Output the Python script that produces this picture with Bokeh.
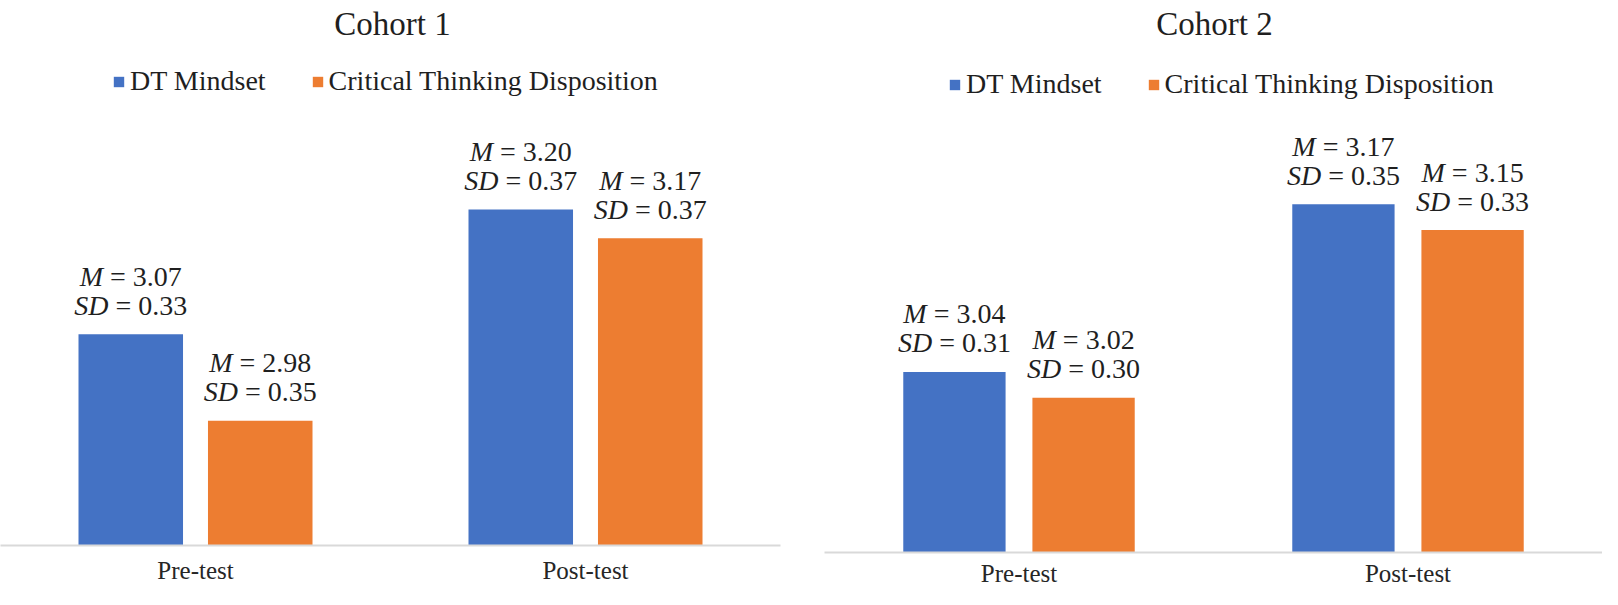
from bokeh.plotting import figure
from bokeh.models import ColumnDataSource, FactorRange, Range1d, Legend, LegendItem, Label, Spacer
from bokeh.transform import dodge
from bokeh.layouts import row, column
from bokeh.embed import file_html
from bokeh.resources import INLINE
from bokeh.core.properties import value

# ---------------- data ----------------
categories = ["Pre-test", "Post-test"]
series_names = ["DT Mindset", "Critical Thinking Disposition"]
panel_titles = ["Cohort 1", "Cohort 2"]

c1_dt_mean = [3.07, 3.20]
c1_dt_sd = [0.33, 0.37]
c1_ctd_mean = [2.98, 3.17]
c1_ctd_sd = [0.35, 0.37]

c2_dt_mean = [3.04, 3.17]
c2_dt_sd = [0.31, 0.35]
c2_ctd_mean = [3.02, 3.15]
c2_ctd_sd = [0.30, 0.33]

axis_min = [2.85, 2.90]

# ---------------- style ----------------
BLUE = "#4472C4"
ORANGE = "#ED7D31"
TEXT = "#1f1f1f"
FONT = "Liberation Serif"
LBL = 28  # data label font px

REG = {' ': 0.25, '=': 0.564, '.': 0.25, 'M': 0.889, 'S': 0.556, 'D': 0.722}
for d in "0123456789":
    REG[d] = 0.5
ITA = {'M': 0.833, 'S': 0.5, 'D': 0.722, ' ': 0.25}


def tw(s, table):
    return sum(table.get(c, 0.5) for c in s) * LBL


def label_cols(means, sds):
    cols = {}
    sp = tw(" ", REG)
    for key, it, vals in (("m", "M", means), ("sd", "SD", sds)):
        ital, rest, oi, orr = [], [], [], []
        for v in vals:
            r = "= %.2f" % v
            wi, wr = tw(it, ITA), tw(r, REG)
            tot = wi + sp + wr
            ital.append(it)
            rest.append(r)
            oi.append(-tot / 2)
            orr.append(-tot / 2 + wi + sp)
        cols[key + "_ital"] = ital
        cols[key + "_rest"] = rest
        cols[key + "_oi"] = oi
        cols[key + "_or"] = orr
    return cols


def make_panel(title, dt_mean, dt_sd, ctd_mean, ctd_sd, ymin, px_per_unit,
               frame_h, width, height, border_left, border_right, border_bottom,
               bar_w, legend_xy, title_xy, standoff):
    y_end = ymin + frame_h / px_per_unit
    p = figure(x_range=FactorRange(*categories, range_padding=0),
               y_range=Range1d(ymin, y_end), title=None,
               width=width, height=height,
               min_border_left=border_left, min_border_right=border_right,
               min_border_top=0, min_border_bottom=border_bottom,
               y_axis_location=None, toolbar_location=None,
               output_backend="svg")
    p.outline_line_color = None
    p.xgrid.grid_line_color = None
    p.ygrid.grid_line_color = None
    p.background_fill_color = "white"
    p.border_fill_color = "white"

    renderers = []
    for mean, sd, off, color in ((dt_mean, dt_sd, -0.166, BLUE),
                                 (ctd_mean, ctd_sd, 0.166, ORANGE)):
        data = dict(cat=categories, val=mean)
        data.update(label_cols(mean, sd))
        src = ColumnDataSource(data)
        r = p.vbar(x=dodge("cat", off, range=p.x_range), top="val", width=bar_w,
                   bottom=0, source=src, fill_color=color, line_color=None)
        renderers.append(r)
        xs = dodge("cat", off, range=p.x_range)
        for key, yoff in (("m", -58), ("sd", -29)):
            p.text(x=xs, y="val", text=key + "_ital", source=src,
                   x_offset=key + "_oi", y_offset=yoff,
                   text_font=value(FONT), text_font_style="italic",
                   text_font_size="%dpx" % LBL, text_color=TEXT,
                   text_align="left", text_baseline="alphabetic")
            p.text(x=xs, y="val", text=key + "_rest", source=src,
                   x_offset=key + "_or", y_offset=yoff,
                   text_font=value(FONT), text_font_style="normal",
                   text_font_size="%dpx" % LBL, text_color=TEXT,
                   text_align="left", text_baseline="alphabetic")

    ax = p.xaxis[0]
    ax.axis_line_color = "#d9d9d9"
    ax.axis_line_width = 2
    ax.major_tick_line_color = None
    ax.minor_tick_line_color = None
    ax.major_tick_out = 0
    ax.major_tick_in = 0
    ax.minor_tick_out = 0
    ax.major_label_text_font = FONT
    ax.major_label_text_font_size = "25px"
    ax.major_label_text_color = "#262626"
    ax.major_label_standoff = standoff

    legend = Legend(items=[LegendItem(label=series_names[0], renderers=[renderers[0]]),
                           LegendItem(label=series_names[1], renderers=[renderers[1]])],
                    orientation="horizontal", location=legend_xy,
                    margin=0, padding=0, spacing=45, label_standoff=5,
                    glyph_width=13, glyph_height=13, label_height=30,
                    label_text_font=FONT, label_text_font_size="28px",
                    label_text_color=TEXT, background_fill_alpha=0,
                    border_line_color=None)
    p.add_layout(legend)

    p.add_layout(Label(x=title_xy[0], y=title_xy[1], x_units="screen", y_units="screen",
                       text=title, text_align="center", text_baseline="alphabetic",
                       text_font=FONT, text_font_size="33px", text_color=TEXT))
    return p


p1 = make_panel(panel_titles[0], c1_dt_mean, c1_dt_sd, c1_ctd_mean, c1_ctd_sd,
                axis_min[0], 960, 545, 810, 589, 0, 30, 44,
                0.268, (112, 448), (392, 522), 11)
p2 = make_panel(panel_titles[1], c2_dt_mean, c2_dt_sd, c2_ctd_mean, c2_ctd_sd,
                axis_min[1], 1290, 545, 792, 582, 14, 0, 37,
                0.263, (124, 452), (390, 529), 7)

layout = row(p1, column(Spacer(width=792, height=7), p2))
open("out.html", "w").write(file_html(layout, INLINE))
